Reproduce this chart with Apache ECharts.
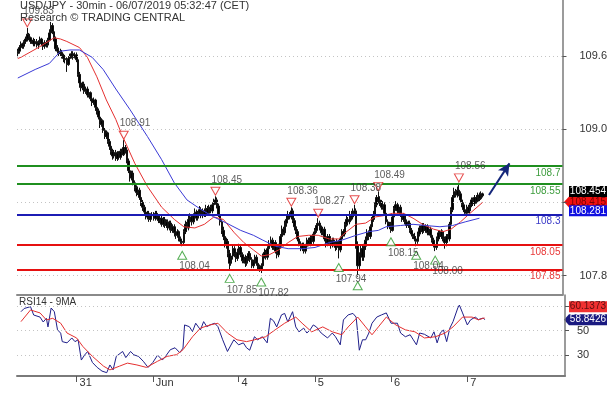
<!DOCTYPE html>
<html>
<head>
<meta charset="utf-8">
<title>USD/JPY 30min</title>
<script src="https://cdn.jsdelivr.net/npm/echarts@6/dist/echarts.min.js"></script>
<style>
  html, body { margin: 0; padding: 0; background: #fff; }
  #chart { width: 610px; height: 398px; }
</style>
</head>
<body>
<div id="chart"></div>
<script>
// 30-minute bars (bar index 0 = first bar on the left)
var opens = [
  109.62,109.64,109.67,109.70,109.68,109.72,109.74,109.78,109.75,109.72,
  109.73,109.70,109.72,109.69,109.71,109.74,109.70,109.68,109.71,109.69,
  109.73,109.79,109.85,109.80,109.74,109.66,109.64,109.62,109.63,109.60,
  109.58,109.57,109.53,109.58,109.60,109.62,109.59,109.61,109.57,109.45,
  109.38,109.34,109.37,109.31,109.33,109.28,109.30,109.25,109.22,109.24,
  109.18,109.15,109.10,109.04,109.07,108.99,108.94,108.97,108.90,108.86,
  108.82,108.78,108.81,108.76,108.80,108.77,108.82,108.79,108.85,108.83,
  108.74,108.66,108.60,108.64,108.56,108.52,108.48,108.50,108.44,108.40,
  108.36,108.32,108.28,108.31,108.26,108.29,108.30,108.27,108.31,108.28,
  108.25,108.27,108.22,108.26,108.21,108.24,108.19,108.23,108.17,108.20,
  108.15,108.13,108.16,108.10,108.08,108.07,108.16,108.22,108.19,108.26,
  108.28,108.24,108.29,108.32,108.27,108.31,108.34,108.29,108.33,108.30,
  108.35,108.31,108.36,108.33,108.38,108.40,108.42,108.37,108.30,108.24,
  108.17,108.12,108.05,108.08,107.98,107.90,107.96,108.02,107.98,107.94,
  107.99,108.03,107.97,107.92,107.95,107.90,107.94,107.98,107.93,107.88,
  107.91,107.95,107.90,107.87,107.85,107.88,107.96,107.99,107.95,108.02,
  108.06,108.09,108.03,108.07,108.00,107.97,108.04,108.12,108.18,108.15,
  108.23,108.26,108.30,108.28,108.33,108.25,108.20,108.16,108.10,108.06,
  108.02,108.05,108.00,108.04,108.09,108.06,108.11,108.08,108.14,108.17,
  108.21,108.23,108.19,108.15,108.18,108.10,108.06,108.12,108.08,108.05,
  108.09,108.06,108.03,108.08,108.01,108.10,108.16,108.14,108.22,108.26,
  108.24,108.30,108.28,108.31,108.33,108.05,107.88,107.96,108.02,107.95,
  108.04,108.09,108.15,108.12,108.20,108.26,108.30,108.38,108.44,108.42,
  108.40,108.36,108.38,108.31,108.24,108.20,108.22,108.17,108.28,108.35,
  108.38,108.33,108.36,108.30,108.26,108.29,108.24,108.21,108.23,108.17,
  108.14,108.12,108.10,108.08,108.14,108.19,108.16,108.21,108.17,108.20,
  108.15,108.18,108.13,108.09,108.05,108.03,108.10,108.15,108.12,108.16,
  108.10,108.07,108.12,108.10,108.22,108.34,108.44,108.49,108.46,108.50,
  108.47,108.42,108.38,108.34,108.31,108.36,108.33,108.38,108.42,108.39,
  108.44,108.41,108.46,108.43,108.47
];
var highs = [
  109.66,109.69,109.72,109.71,109.73,109.76,109.83,109.79,109.76,109.75,
  109.75,109.74,109.74,109.73,109.76,109.75,109.72,109.73,109.73,109.75,
  109.82,109.88,109.87,109.82,109.76,109.69,109.67,109.66,109.65,109.62,
  109.61,109.59,109.60,109.62,109.64,109.64,109.63,109.63,109.58,109.47,
  109.41,109.39,109.39,109.35,109.35,109.32,109.31,109.27,109.26,109.25,
  109.20,109.17,109.12,109.09,109.08,109.01,108.99,108.98,108.92,108.88,
  108.84,108.83,108.83,108.82,108.82,108.84,108.84,108.91,108.87,108.84,
  108.76,108.68,108.66,108.66,108.58,108.54,108.53,108.52,108.46,108.42,
  108.38,108.34,108.33,108.33,108.31,108.32,108.32,108.33,108.33,108.30,
  108.29,108.29,108.28,108.28,108.26,108.26,108.25,108.25,108.22,108.22,
  108.18,108.18,108.17,108.12,108.10,108.18,108.25,108.24,108.29,108.31,
  108.30,108.31,108.35,108.34,108.33,108.37,108.36,108.35,108.35,108.38,
  108.37,108.38,108.38,108.40,108.43,108.45,108.44,108.39,108.32,108.26,
  108.20,108.15,108.11,108.10,108.01,107.98,108.05,108.04,108.00,108.02,
  108.06,108.05,107.99,107.97,107.97,107.96,108.00,108.00,107.95,107.93,
  107.97,107.97,107.92,107.89,107.90,107.98,108.02,108.01,108.04,108.09,
  108.12,108.11,108.09,108.09,108.02,108.06,108.14,108.21,108.20,108.25,
  108.29,108.33,108.32,108.36,108.35,108.27,108.22,108.18,108.12,108.08,
  108.07,108.07,108.06,108.11,108.11,108.13,108.13,108.16,108.19,108.23,
  108.27,108.25,108.21,108.20,108.20,108.12,108.14,108.14,108.10,108.11,
  108.11,108.08,108.10,108.09,108.12,108.18,108.18,108.24,108.29,108.28,
  108.33,108.33,108.35,108.38,108.35,108.08,107.99,108.05,108.05,108.06,
  108.12,108.18,108.17,108.22,108.28,108.33,108.40,108.46,108.49,108.45,
  108.42,108.41,108.40,108.33,108.26,108.24,108.24,108.30,108.37,108.41,
  108.40,108.38,108.38,108.32,108.31,108.30,108.26,108.25,108.25,108.19,
  108.16,108.15,108.12,108.16,108.21,108.21,108.23,108.23,108.22,108.22,
  108.20,108.20,108.15,108.11,108.07,108.12,108.17,108.17,108.18,108.17,
  108.12,108.14,108.14,108.24,108.36,108.46,108.52,108.51,108.53,108.56,
  108.49,108.44,108.40,108.36,108.38,108.38,108.40,108.44,108.44,108.46,
  108.46,108.48,108.48,108.49,108.48
];
var lows = [
  109.59,109.62,109.65,109.66,109.66,109.70,109.72,109.73,109.70,109.70,
  109.68,109.68,109.67,109.66,109.69,109.68,109.65,109.66,109.67,109.67,
  109.72,109.77,109.78,109.72,109.64,109.62,109.60,109.60,109.58,109.55,
  109.54,109.47,109.52,109.56,109.58,109.57,109.58,109.55,109.43,109.34,
  109.31,109.32,109.29,109.29,109.26,109.26,109.23,109.19,109.20,109.15,
  109.12,109.08,109.01,109.02,108.97,108.92,108.92,108.88,108.83,108.79,
  108.75,108.76,108.74,108.74,108.75,108.75,108.77,108.78,108.80,108.72,
  108.64,108.57,108.58,108.54,108.49,108.45,108.46,108.42,108.37,108.33,
  108.30,108.26,108.26,108.24,108.24,108.27,108.25,108.25,108.26,108.23,
  108.23,108.20,108.20,108.19,108.19,108.17,108.17,108.15,108.15,108.12,
  108.10,108.11,108.08,108.06,108.04,108.05,108.14,108.16,108.17,108.24,
  108.21,108.22,108.27,108.25,108.25,108.29,108.27,108.27,108.28,108.28,
  108.29,108.29,108.31,108.31,108.36,108.38,108.35,108.28,108.21,108.14,
  108.09,108.03,108.02,107.95,107.85,107.88,107.93,107.95,107.91,107.92,
  107.97,107.95,107.90,107.90,107.87,107.88,107.92,107.91,107.86,107.86,
  107.89,107.88,107.85,107.83,107.82,107.86,107.94,107.93,107.93,108.00,
  108.04,108.01,108.01,107.98,107.94,107.95,108.02,108.10,108.13,108.13,
  108.20,108.24,108.26,108.26,108.23,108.17,108.14,108.08,108.04,108.00,
  108.00,107.98,107.98,108.02,108.04,108.04,108.06,108.06,108.12,108.15,
  108.19,108.17,108.13,108.13,108.08,108.03,108.04,108.06,108.02,108.03,
  108.04,108.00,108.01,107.94,107.99,108.08,108.12,108.12,108.20,108.21,
  108.22,108.25,108.26,108.29,108.02,107.79,107.85,107.93,107.92,107.92,
  108.01,108.06,108.09,108.10,108.18,108.24,108.28,108.36,108.39,108.37,
  108.34,108.34,108.29,108.22,108.18,108.18,108.15,108.16,108.26,108.33,
  108.31,108.31,108.28,108.24,108.24,108.22,108.19,108.19,108.15,108.12,
  108.10,108.08,108.04,108.06,108.12,108.14,108.14,108.15,108.15,108.13,
  108.13,108.11,108.07,108.03,108.00,108.01,108.08,108.10,108.10,108.08,
  108.02,108.04,108.07,108.08,108.20,108.32,108.42,108.44,108.44,108.45,
  108.40,108.36,108.32,108.29,108.30,108.31,108.31,108.36,108.37,108.37,
  108.39,108.40,108.41,108.42,108.44
];
var closes = [
  109.64,109.67,109.70,109.68,109.72,109.74,109.78,109.75,109.72,109.73,
  109.70,109.72,109.69,109.71,109.74,109.70,109.68,109.71,109.69,109.73,
  109.79,109.85,109.80,109.74,109.66,109.64,109.62,109.63,109.60,109.58,
  109.57,109.53,109.58,109.60,109.62,109.59,109.61,109.57,109.45,109.38,
  109.34,109.37,109.31,109.33,109.28,109.30,109.25,109.22,109.24,109.18,
  109.15,109.10,109.04,109.07,108.99,108.94,108.97,108.90,108.86,108.82,
  108.78,108.81,108.76,108.80,108.77,108.82,108.79,108.85,108.83,108.74,
  108.66,108.60,108.64,108.56,108.52,108.48,108.50,108.44,108.40,108.36,
  108.32,108.28,108.31,108.26,108.29,108.30,108.27,108.31,108.28,108.25,
  108.27,108.22,108.26,108.21,108.24,108.19,108.23,108.17,108.20,108.15,
  108.13,108.16,108.10,108.08,108.07,108.16,108.22,108.19,108.26,108.28,
  108.24,108.29,108.32,108.27,108.31,108.34,108.29,108.33,108.30,108.35,
  108.31,108.36,108.33,108.38,108.40,108.42,108.37,108.30,108.24,108.17,
  108.12,108.05,108.08,107.98,107.90,107.96,108.02,107.98,107.94,107.99,
  108.03,107.97,107.92,107.95,107.90,107.94,107.98,107.93,107.88,107.91,
  107.95,107.90,107.87,107.85,107.88,107.96,107.99,107.95,108.02,108.06,
  108.09,108.03,108.07,108.00,107.97,108.04,108.12,108.18,108.15,108.23,
  108.26,108.30,108.28,108.33,108.25,108.20,108.16,108.10,108.06,108.02,
  108.05,108.00,108.04,108.09,108.06,108.11,108.08,108.14,108.17,108.21,
  108.23,108.19,108.15,108.18,108.10,108.06,108.12,108.08,108.05,108.09,
  108.06,108.03,108.08,108.01,108.10,108.16,108.14,108.22,108.26,108.24,
  108.30,108.28,108.31,108.33,108.05,107.88,107.96,108.02,107.95,108.04,
  108.09,108.15,108.12,108.20,108.26,108.30,108.38,108.44,108.42,108.40,
  108.36,108.38,108.31,108.24,108.20,108.22,108.17,108.28,108.35,108.38,
  108.33,108.36,108.30,108.26,108.29,108.24,108.21,108.23,108.17,108.14,
  108.12,108.10,108.08,108.14,108.19,108.16,108.21,108.17,108.20,108.15,
  108.18,108.13,108.09,108.05,108.03,108.10,108.15,108.12,108.16,108.10,
  108.07,108.12,108.10,108.22,108.34,108.44,108.49,108.46,108.50,108.47,
  108.42,108.38,108.34,108.31,108.36,108.33,108.38,108.42,108.39,108.44,
  108.41,108.46,108.43,108.47,108.454
];

// moving averages drawn on the price panel, [bar index, price]
var maFast = [
  [0,109.58],[2,109.59],[13,109.67],[23,109.75],[27,109.74],[31,109.72],[39,109.67],
  [44,109.59],[50,109.43],[56,109.24],[62,109.08],[66,108.95],[74,108.72],[82,108.53],
  [91,108.36],[99,108.26],[105,108.20],[112,108.19],[118,108.22],[124,108.28],[130,108.26],
  [137,108.15],[143,108.07],[149,108.01],[154,107.96],[159,107.97],[165,108.01],[171,108.07],
  [177,108.12],[184,108.13],[190,108.13],[197,108.10],[203,108.10],[207,108.15],[214,108.22],
  [220,108.23],[226,108.28],[231,108.29],[237,108.31],[244,108.31],[250,108.27],[256,108.22],
  [263,108.18],[269,108.16],[274,108.18],[280,108.24],[286,108.31],[294,108.40]
];
var maSlow = [
  [0,109.42],[11,109.49],[20,109.54],[27,109.64],[33,109.65],[39,109.65],[47,109.59],
  [54,109.49],[62,109.33],[71,109.16],[82,108.94],[91,108.75],[99,108.56],[107,108.42],
  [116,108.34],[124,108.28],[132,108.23],[141,108.17],[149,108.13],[155,108.09],[163,108.04],
  [171,108.02],[180,108.02],[188,108.03],[197,108.07],[205,108.09],[214,108.13],[222,108.16],
  [228,108.17],[233,108.20],[242,108.21],[250,108.22],[258,108.21],[267,108.20],[275,108.21],
  [283,108.24],[292,108.27]
];

// RSI(14) and its 9-period average, [bar index, value]
var rsi = [
  [2,65.4],[4,68],[8,69.5],[10,62.7],[14,61],[16,57],[18,60],[19,53],[21,68.4],[23,65.4],
  [25,50.6],[27,47.9],[28,41],[31,40],[34,44],[36,41],[38,42.5],[40,26],[42,30],[44,33],
  [47,24],[50,20],[53,17],[56,15.7],[58,22],[60,18],[62,29],[66,33],[68,28],[71,33],
  [73,30.3],[76,29],[79,25],[82,20],[85,24],[88,30],[91,26],[93,29],[96,34.4],[99,36],
  [102,32],[104,35.7],[105,54.6],[108,53.2],[110,49.2],[112,56],[115,50.6],[117,57.3],[119,53.2],[121,54.6],
  [124,56],[126,53.2],[129,42.5],[132,33],[136,42.5],[139,38.4],[142,40],[144,36],[146,34],[149,45],
  [151,42.5],[154,45],[157,40],[159,60],[161,58],[163,53],[166,62.8],[168,64],[170,57],[173,65.4],
  [175,53],[177,49],[180,52],[182,48],[184,50.6],[186,54.6],[188,53],[191,48],[195,44],[198,48],
  [200,45],[203,38.4],[205,58.7],[208,62.8],[211,64],[213,61],[214,48],[215,34],[217,42.5],[219,42.5],
  [221,48],[223,56],[226,61],[229,62.8],[232,64.4],[235,56],[239,56],[241,48],[244,45],[247,46.6],
  [249,42.5],[251,38.4],[253,48],[256,47],[260,44],[262,49],[264,40],[266,48],[268,50.6],[270,41],
  [272,52],[274,57.3],[277,68.4],[278,70.8],[280,64.4],[283,54.6],[285,58.7],[288,61],[290,59],[293,60.2],
  [294,58.84]
];
var rsiMa = [
  [2,57.3],[8,66.8],[14,64.4],[18,58.7],[22,60],[27,56],[31,48],[37,44],[41,37],[47,29],
  [54,21],[58,18],[64,21],[69,23.5],[75,22],[81,20],[88,25],[94,29],[100,30.4],[104,34.4],
  [110,45],[115,52],[121,54.6],[126,56],[132,48],[138,42.5],[144,41],[149,42.5],[156,45],[162,50.6],
  [168,56],[175,61],[179,56],[185,49],[192,53],[198,49],[204,46.6],[208,53],[214,61],[219,53],
  [223,46.6],[227,53],[232,61],[238,54.6],[244,50.6],[250,49],[256,44],[263,45],[269,48],[274,53],
  [280,61],[286,61],[290,58.7],[293,60.1],[294,60.14]
];

// swing highs / lows marked with triangles
var highIdx = [6, 67, 125, 173, 190, 213, 228, 279];
var highVal = [109.83, 108.91, 108.45, 108.36, 108.27, 108.38, 108.49, 108.56];
var lowIdx = [104, 134, 154, 203, 215, 236, 252, 264];
var lowVal = [108.04, 107.85, 107.82, 107.94, 107.79, 108.15, 108.04, 108.00];
var lowShown = [true, true, true, true, false, true, true, true];

// support / resistance levels
var resistLevels = [108.7, 108.55];
var pivotLevel = 108.3;
var supportLevels = [108.05, 107.85];

// arrow (projected move), [bar index, price]
var arrowFrom = [298, 108.46];
var arrowTo = [311, 108.72];

// axes
var priceGrid = [109.6, 109.0, 108.4, 107.8];
var priceLabels = [109.6, 109.0, 107.8];
var rsiGrid = [70, 50, 30];
var rsiLabels = [50, 30];
var dayTickIdx = [37, 85, 139, 187, 235, 283];
var dayTickText = ['31', 'Jun', '4', '5', '6', '7'];

// last values shown on the right scale
var lastPrice = 108.454;
var lastBid = 108.415;
var lastMaSlow = 108.281;
var lastRsi = 58.8426;
var lastRsiMa = 60.1373;

var FONT = '"Liberation Sans", Arial, sans-serif';
var SLOTS = 345;
var slots = [];
for (var i = 0; i < SLOTS; i++) slots.push(String(i));

var ohlc = [];
for (var i = 0; i < closes.length; i++) {
    ohlc.push([opens[i], closes[i], lows[i], highs[i]]);
}

function isDayTick(idx) { return dayTickIdx.indexOf(idx) >= 0; }
function near(list, v) {
    for (var k = 0; k < list.length; k++) if (Math.abs(list[k] - v) < 1e-6) return true;
    return false;
}

var highMarks = highIdx.map(function (idx, k) {
    return { value: [idx, highVal[k]], name: highVal[k].toFixed(2) };
});
var lowMarks = lowIdx.map(function (idx, k) {
    return { value: [idx, lowVal[k]], name: lowShown[k] ? lowVal[k].toFixed(2) : '' };
});

function levelLine(v, color, labelColor) {
    return {
        yAxis: v,
        lineStyle: { color: color, width: 2, type: 'solid' },
        label: { show: true, position: 'insideEndBottom', formatter: String(v),
                 color: labelColor, fontSize: 10, fontFamily: FONT, distance: 2 }
    };
}
function gridLine(v) {
    return { yAxis: v, lineStyle: { color: '#c4c4c4', width: 1, type: [1, 3] }, label: { show: false } };
}

var levelData = [];
priceGrid.forEach(function (v) { levelData.push(gridLine(v)); });
resistLevels.forEach(function (v) { levelData.push(levelLine(v, '#1f8f1f', '#3c9c3c')); });
levelData.push(levelLine(pivotLevel, '#1c1cb4', '#3a3ac8'));
supportLevels.forEach(function (v) { levelData.push(levelLine(v, '#e61010', '#e83838')); });
levelData.push([
    { coord: [arrowFrom[0], arrowFrom[1]], symbol: 'none',
      lineStyle: { color: '#14267a', width: 2, type: 'solid' }, label: { show: false } },
    { coord: [arrowTo[0], arrowTo[1]], symbol: 'arrow', symbolSize: [9, 12] }
]);

var chart = echarts.init(document.getElementById('chart'), null, { renderer: 'canvas' });

var option = {
    animation: false,
    backgroundColor: '#fff',
    textStyle: { fontFamily: FONT },
    title: [{
        text: 'USD/JPY - 30min - 06/07/2019 05:32:47 (CET)',
        subtext: 'Research © TRADING CENTRAL',
        left: 20, top: 0, padding: 0, itemGap: 1,
        textStyle: { fontSize: 11, fontWeight: 'normal', color: '#333', fontFamily: FONT },
        subtextStyle: { fontSize: 11, color: '#333', fontFamily: FONT }
    }, {
        text: 'RSI14 - 9MA',
        left: 19, top: 297, padding: 0,
        textStyle: { fontSize: 10, fontWeight: 'normal', color: '#333', fontFamily: FONT }
    }],
    grid: [
        { left: 17, right: 45, top: 0, height: 295 },
        { left: 17, right: 45, top: 295, height: 81 }
    ],
    xAxis: [{
        type: 'category', gridIndex: 0, data: slots, boundaryGap: true,
        axisLine: { lineStyle: { color: '#8a8a8a', width: 2 } },
        axisTick: { show: false }, axisLabel: { show: false }, splitLine: { show: false }
    }, {
        type: 'category', gridIndex: 1, data: slots, boundaryGap: true,
        axisLine: { lineStyle: { color: '#7a7a7a', width: 2 } },
        axisTick: { show: true, alignWithLabel: true, length: 6, inside: false,
                    interval: function (idx) { return isDayTick(idx); },
                    lineStyle: { color: '#555' } },
        axisLabel: { show: true, interval: function (idx) { return isDayTick(idx); },
                     formatter: function (v, idx) { return dayTickText[dayTickIdx.indexOf(Number(v))] || ''; },
                     align: 'left', padding: [0, 0, 0, 3], margin: 1,
                     fontSize: 11, color: '#333', fontFamily: FONT },
        splitLine: { show: false }
    }],
    yAxis: [{
        type: 'value', gridIndex: 0, position: 'right',
        min: 107.64, max: 110.06, interval: 0.02, scale: true,
        axisLine: { show: true, lineStyle: { color: '#7a7a7a', width: 1.5 } },
        axisTick: { show: true, length: 4, customValues: priceGrid, lineStyle: { color: '#555' } },
        axisLabel: { customValues: priceLabels, margin: 17, fontSize: 11, color: '#333', fontFamily: FONT,
                     formatter: function (v) { return near(priceLabels, v) ? v.toFixed(1) : ''; } },
        splitLine: { show: false }
    }, {
        type: 'value', gridIndex: 1, position: 'right',
        min: 13, max: 79, interval: 1,
        axisLine: { show: true, lineStyle: { color: '#7a7a7a', width: 1.5 } },
        axisTick: { show: true, length: 4, customValues: rsiGrid, lineStyle: { color: '#555' } },
        axisLabel: { customValues: rsiLabels, margin: 12, fontSize: 11, color: '#333', fontFamily: FONT,
                     formatter: function (v) { return near(rsiLabels, v) ? String(v) : ''; } },
        splitLine: { show: false }
    }],
    series: [{
        name: 'USD/JPY', type: 'candlestick', xAxisIndex: 0, yAxisIndex: 0,
        data: ohlc, barWidth: 2,
        itemStyle: { color: '#000', color0: '#000', borderColor: '#111', borderColor0: '#111', borderWidth: 1 },
        markLine: { silent: true, symbol: ['none', 'none'], animation: false, data: levelData }
    }, {
        name: 'MA fast', type: 'line', xAxisIndex: 0, yAxisIndex: 0, data: maFast,
        showSymbol: false, lineStyle: { color: '#e53030', width: 1 }, z: 3
    }, {
        name: 'MA slow', type: 'line', xAxisIndex: 0, yAxisIndex: 0, data: maSlow,
        showSymbol: false, lineStyle: { color: '#3a3ad6', width: 1 }, z: 3
    }, {
        name: 'Highs', type: 'scatter', xAxisIndex: 0, yAxisIndex: 0, data: highMarks,
        symbol: 'path://M0,0 L10,0 L5,9 Z', symbolSize: [9, 8], symbolOffset: [0, -5],
        itemStyle: { color: '#fff', borderColor: '#e02020', borderWidth: 1 },
        label: { show: true, position: 'top', distance: 2, formatter: '{b}', align: 'left', offset: [-4, 0],
                 fontSize: 10, color: '#333', fontFamily: FONT },
        z: 5
    }, {
        name: 'Lows', type: 'scatter', xAxisIndex: 0, yAxisIndex: 0, data: lowMarks,
        symbol: 'triangle', symbolSize: [9, 8], symbolOffset: [0, 9],
        itemStyle: { color: '#fff', borderColor: '#2a9a2a', borderWidth: 1 },
        label: { show: true, position: 'bottom', distance: 2, formatter: '{b}', align: 'left', offset: [-3, 0],
                 fontSize: 10, color: '#333', fontFamily: FONT },
        z: 5
    }, {
        name: 'RSI', type: 'line', xAxisIndex: 1, yAxisIndex: 1, data: rsi,
        showSymbol: false, lineStyle: { color: '#1f1f8a', width: 1 },
        markLine: { silent: true, symbol: ['none', 'none'], animation: false,
                    data: rsiGrid.map(function (v) { return gridLine(v); }) }
    }, {
        name: 'RSI MA', type: 'line', xAxisIndex: 1, yAxisIndex: 1, data: rsiMa,
        showSymbol: false, lineStyle: { color: '#e53030', width: 1 }
    }]
};

chart.setOption(option);

// value tags on the right scale, placed through the axes
function tag(y, text, bg, fg, pointer) {
    var x0 = 569, w = 38, h = 11;
    var shape;
    if (pointer) {
        shape = { type: 'polygon', shape: { points: [[x0 - 5, y], [x0, y - h / 2], [x0 + w, y - h / 2], [x0 + w, y + h / 2], [x0, y + h / 2]] },
                  style: { fill: bg } };
    } else {
        shape = { type: 'rect', shape: { x: x0, y: y - h / 2, width: w, height: h }, style: { fill: bg } };
    }
    return { type: 'group', children: [shape, {
        type: 'text', x: x0 + w - 1, y: y, z: 2,
        style: { text: text, fill: fg, font: '10px ' + FONT, align: 'right', verticalAlign: 'middle' }
    }] };
}

var yBid = chart.convertToPixel({ yAxisIndex: 0 }, lastBid) + 1.5;
var ySlow = chart.convertToPixel({ yAxisIndex: 0 }, lastMaSlow) - 6;
var yRsi = chart.convertToPixel({ yAxisIndex: 1 }, lastRsi);

chart.setOption({
    graphic: [
        tag(yBid, lastBid.toFixed(3), '#f01010', '#7a0000', true),
        tag(yBid - 10.5, lastPrice.toFixed(3), '#000', '#fff', false),
        tag(ySlow, lastMaSlow.toFixed(3), '#1010e0', '#fff', false),
        tag(yRsi - 13, lastRsiMa.toFixed(4), '#f03030', '#5a1010', false),
        tag(yRsi, lastRsi.toFixed(4), '#1a1a80', '#fff', true)
    ]
});
</script>
</body>
</html>
